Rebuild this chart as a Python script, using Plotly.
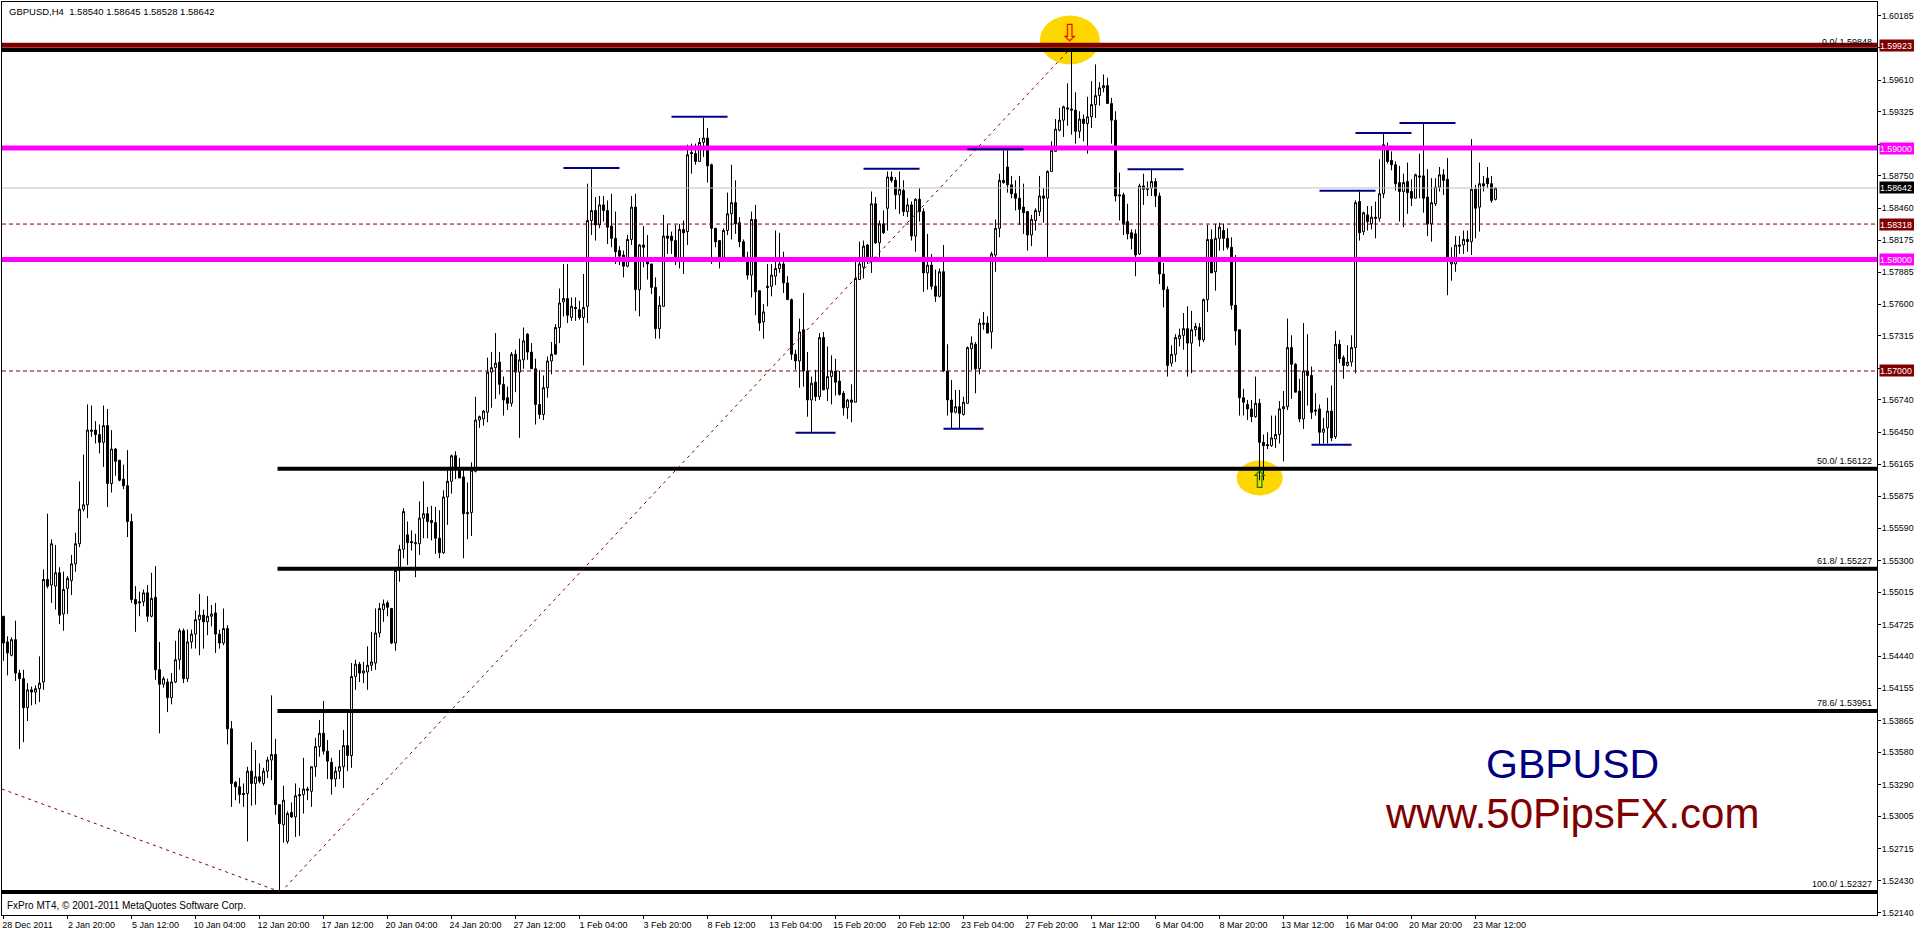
import plotly.graph_objects as go

# Price data in pips (1 pip = 0.0001)
opens_pips = [
15480,15457,15445,15459,15429,15424,15398,15414,15412,15415,
15421,15513,15508,15507,15519,15482,15505,15512,15527,15545,
15576,15580,15647,15647,15643,15636,15651,15599,15630,15620,
15603,15597,15565,15495,15493,15493,15501,15480,15497,15432,
15419,15421,15407,15421,15441,15467,15424,15457,15464,15477,
15481,15475,15480,15483,15464,15456,15469,15379,15331,15327,
15321,15321,15341,15330,15336,15330,15341,15351,15356,15311,
15293,15278,15304,15300,15320,15320,15325,15323,15345,15363,
15375,15359,15349,15334,15341,15345,15364,15355,15426,15437,
15429,15430,15436,15438,15465,15486,15492,15487,15456,15521,
15540,15553,15547,15545,15545,15568,15572,15566,15564,15550,
15537,15587,15601,15624,15612,15605,15573,15573,15610,15656,
15657,15663,15699,15703,15708,15688,15676,15671,15715,15699,
15710,15733,15717,15702,15670,15661,15685,15709,15715,15739,
15762,15765,15748,15757,15755,15748,15758,15835,15844,15831,
15849,15844,15830,15819,15808,15804,15794,15818,15847,15773,
15813,15798,15796,15775,15738,15758,15821,15821,15817,15800,
15827,15825,15896,15895,15888,15905,15909,15885,15828,15817,
15802,15826,15841,15851,15833,15816,15802,15786,15836,15772,
15744,15776,15776,15785,15792,15796,15779,15764,15715,15709,
15737,15700,15674,15690,15677,15730,15684,15695,15700,15691,
15680,15667,15674,15672,15782,15793,15813,15802,15850,15815,
15832,15846,15874,15871,15858,15862,15843,15849,15821,15854,
15843,15788,15795,15776,15767,15789,15700,15674,15663,15668,
15661,15671,15720,15724,15702,15743,15743,15735,15804,15828,
15871,15883,15867,15859,15855,15847,15843,15822,15835,15843,
15857,15855,15879,15897,15916,15925,15936,15935,15934,15915,
15926,15922,15928,15939,15947,15954,15956,15940,15925,15858,
15858,15834,15824,15823,15805,15866,15864,15864,15870,15857,
15787,15773,15707,15715,15729,15732,15738,15725,15737,15739,
15728,15764,15818,15789,15819,15826,15819,15811,15759,15737,
15676,15670,15666,15659,15671,15636,15634,15633,15639,15643,
15666,15668,15721,15706,15682,15657,15700,15696,15665,15666,
15645,15649,15664,15641,15724,15712,15705,15708,15721,15852,
15825,15840,15832,15838,15837,15859,15900,15889,15885,15869,
15861,15870,15861,15855,15875,15875,15856,15832,15850,15865,
15876,15872,15796,15796,15813,15813,15818,15816,15863,15847,
15868,15873,15868,15854]

highs_pips = [
15480,15462,15461,15476,15432,15432,15420,15417,15418,15444,
15522,15572,15549,15544,15524,15520,15516,15535,15555,15601,
15625,15670,15669,15655,15652,15669,15666,15647,15631,15620,
15616,15629,15572,15507,15502,15504,15508,15519,15525,15457,
15426,15424,15429,15458,15469,15469,15468,15468,15485,15500,
15486,15498,15490,15492,15468,15487,15472,15386,15332,15335,
15330,15345,15367,15360,15348,15344,15354,15409,15370,15311,
15328,15305,15313,15330,15326,15353,15327,15345,15371,15387,
15404,15369,15353,15345,15360,15378,15394,15438,15441,15439,
15439,15453,15466,15487,15492,15495,15494,15487,15521,15544,
15577,15565,15557,15554,15583,15601,15578,15579,15578,15575,
15593,15611,15625,15628,15622,15613,15600,15618,15677,15660,
15665,15712,15717,15734,15717,15695,15686,15717,15719,15729,
15739,15734,15725,15711,15701,15696,15713,15726,15742,15774,
15796,15796,15766,15766,15763,15787,15868,15881,15856,15857,
15857,15853,15859,15843,15812,15808,15822,15857,15859,15814,
15830,15822,15796,15784,15767,15840,15832,15825,15831,15832,
15835,15903,15904,15904,15909,15927,15918,15886,15828,15817,
15828,15860,15885,15871,15838,15818,15807,15843,15849,15772,
15760,15796,15796,15826,15824,15807,15785,15765,15719,15747,
15770,15717,15695,15701,15734,15735,15722,15714,15711,15700,
15682,15675,15688,15799,15816,15817,15814,15861,15856,15835,
15844,15879,15879,15874,15879,15871,15855,15852,15855,15864,
15846,15823,15805,15791,15792,15813,15724,15692,15683,15683,
15677,15722,15731,15726,15747,15753,15749,15807,15836,15877,
15898,15898,15875,15871,15875,15868,15843,15840,15846,15875,
15864,15880,15906,15926,15936,15938,15958,15988,15950,15933,
15930,15946,15960,15975,15959,15966,15963,15945,15933,15878,
15860,15850,15827,15827,15868,15877,15870,15881,15873,15860,
15797,15776,15723,15733,15738,15752,15758,15754,15743,15743,
15765,15831,15827,15832,15833,15832,15828,15820,15804,15737,
15684,15674,15674,15695,15675,15643,15645,15660,15660,15673,
15682,15747,15732,15707,15693,15743,15733,15704,15680,15670,
15658,15676,15687,15736,15728,15714,15723,15732,15853,15861,
15843,15848,15848,15852,15890,15913,15905,15897,15888,15884,
15877,15887,15872,15877,15895,15922,15881,15873,15873,15883,
15881,15891,15811,15821,15821,15826,15826,15908,15867,15887,
15875,15883,15875,15865]

lows_pips = [
15440,15427,15444,15422,15361,15367,15386,15400,15401,15403,
15414,15505,15492,15486,15473,15467,15482,15499,15520,15542,
15574,15568,15641,15635,15626,15614,15578,15591,15606,15601,
15594,15551,15492,15466,15480,15489,15475,15479,15423,15375,
15416,15394,15401,15420,15432,15420,15421,15451,15451,15445,
15451,15463,15471,15447,15451,15454,15365,15309,15315,15312,
15309,15278,15310,15311,15330,15328,15335,15333,15302,15233,
15277,15276,15299,15282,15283,15303,15315,15309,15336,15354,
15356,15334,15320,15327,15334,15326,15341,15344,15414,15421,
15420,15414,15431,15432,15461,15475,15480,15455,15449,15511,
15532,15526,15539,15515,15535,15550,15550,15548,15536,15532,
15536,15562,15590,15603,15604,15532,15549,15552,15609,15649,
15651,15654,15667,15675,15679,15660,15665,15668,15681,15640,
15702,15710,15702,15652,15657,15656,15676,15697,15724,15725,
15749,15743,15745,15745,15746,15705,15743,15822,15817,15828,
15834,15814,15811,15796,15795,15784,15793,15813,15754,15749,
15793,15782,15769,15729,15729,15758,15805,15805,15795,15792,
15787,15813,15877,15885,15888,15892,15869,15796,15811,15792,
15802,15822,15818,15823,15811,15801,15782,15766,15750,15736,
15729,15758,15767,15777,15788,15770,15764,15710,15701,15685,
15686,15659,15645,15673,15674,15683,15673,15670,15678,15678,
15660,15657,15654,15672,15782,15783,15796,15788,15814,15801,
15823,15826,15869,15845,15841,15839,15838,15817,15807,15834,
15771,15773,15773,15762,15766,15699,15660,15648,15662,15648,
15660,15671,15701,15680,15697,15737,15734,15720,15789,15820,
15868,15860,15855,15844,15831,15823,15808,15812,15826,15839,
15833,15802,15879,15897,15915,15910,15920,15912,15904,15909,
15906,15895,15918,15927,15938,15950,15940,15904,15852,15835,
15822,15818,15809,15785,15804,15849,15857,15857,15847,15778,
15757,15695,15704,15708,15722,15719,15695,15698,15731,15722,
15726,15753,15788,15772,15808,15808,15809,15755,15723,15660,
15660,15656,15654,15658,15602,15602,15630,15632,15631,15635,
15619,15665,15675,15681,15654,15648,15669,15657,15660,15634,
15635,15635,15637,15639,15707,15693,15704,15704,15698,15817,
15822,15826,15827,15819,15834,15855,15886,15880,15862,15834,
15829,15841,15848,15855,15855,15842,15821,15816,15848,15861,
15858,15768,15781,15789,15805,15805,15807,15804,15819,15825,
15861,15864,15851,15853]

closes_pips = [
15456,15447,15459,15429,15424,15398,15414,15412,15415,15420,
15513,15507,15545,15519,15481,15504,15514,15527,15545,15576,
15580,15647,15646,15643,15636,15651,15599,15630,15619,15602,
15597,15565,15495,15491,15492,15501,15480,15496,15432,15419,
15424,15407,15421,15441,15467,15424,15457,15464,15477,15481,
15475,15480,15482,15464,15456,15469,15379,15330,15327,15320,
15320,15341,15330,15336,15332,15341,15351,15356,15311,15294,
15315,15303,15300,15319,15319,15325,15324,15345,15363,15375,
15359,15350,15334,15341,15345,15364,15355,15426,15437,15429,
15431,15436,15439,15465,15487,15491,15488,15456,15521,15540,
15574,15546,15546,15546,15568,15572,15565,15564,15550,15537,
15587,15601,15624,15612,15604,15572,15572,15611,15656,15659,
15664,15699,15703,15707,15688,15674,15671,15715,15699,15710,
15727,15717,15702,15670,15661,15685,15709,15715,15739,15761,
15765,15750,15758,15756,15748,15757,15835,15844,15831,15849,
15844,15829,15819,15807,15803,15794,15818,15847,15773,15813,
15811,15796,15775,15738,15759,15821,15819,15817,15800,15827,
15824,15894,15895,15888,15905,15909,15884,15828,15816,15802,
15826,15841,15851,15832,15816,15802,15786,15836,15771,15743,
15753,15775,15786,15792,15796,15779,15764,15715,15709,15735,
15700,15674,15689,15677,15730,15683,15695,15700,15690,15679,
15667,15674,15672,15783,15796,15812,15802,15850,15815,15832,
15824,15874,15871,15858,15863,15843,15849,15821,15854,15843,
15788,15795,15776,15767,15789,15700,15674,15663,15668,15662,
15672,15721,15725,15702,15743,15742,15734,15805,15828,15871,
15869,15867,15859,15855,15845,15842,15822,15836,15844,15857,
15855,15879,15898,15917,15925,15937,15935,15934,15915,15926,
15922,15928,15939,15947,15954,15956,15940,15925,15857,15857,
15832,15823,15819,15804,15866,15863,15863,15870,15857,15787,
15773,15705,15715,15730,15732,15738,15725,15737,15740,15728,
15764,15818,15788,15819,15829,15819,15811,15759,15736,15676,
15672,15666,15659,15671,15636,15633,15633,15640,15643,15666,
15668,15721,15706,15681,15657,15700,15696,15663,15664,15645,
15648,15664,15640,15724,15711,15705,15708,15721,15851,15824,
15842,15834,15838,15837,15859,15903,15888,15885,15868,15861,
15869,15860,15855,15876,15874,15855,15832,15851,15865,15876,
15871,15801,15798,15813,15812,15818,15816,15863,15846,15868,
15866,15868,15853,15864]

time_labels = ["28 Dec 2011","2 Jan 20:00","5 Jan 12:00","10 Jan 04:00","12 Jan 20:00",
    "17 Jan 12:00","20 Jan 04:00","24 Jan 20:00","27 Jan 12:00","1 Feb 04:00","3 Feb 20:00",
    "8 Feb 12:00","13 Feb 04:00","15 Feb 20:00","20 Feb 12:00","23 Feb 04:00","27 Feb 20:00",
    "1 Mar 12:00","6 Mar 04:00","8 Mar 20:00","13 Mar 12:00","16 Mar 04:00","20 Mar 20:00",
    "23 Mar 12:00"]
bars_per_label = 16

price_ticks = [1.60185,1.59900,1.59610,1.59325,1.59035,1.58750,1.58460,1.58175,1.57885,1.57600,
    1.57315,1.57025,1.56740,1.56450,1.56165,1.55875,1.55590,1.55300,1.55015,1.54725,1.54440,
    1.54155,1.53865,1.53580,1.53290,1.53005,1.52715,1.52430,1.52140]
covered_ticks = [1.59900,1.59035,1.57025]   # hidden behind the price tags in the reference

fib_labels = ["0.0/ 1.59848","50.0/ 1.56122","61.8/ 1.55227","78.6/ 1.53951","100.0/ 1.52327"]
fib_levels = [1.5988,1.56122,1.55227,1.53951,1.52327]
fib_start_bars = [0,69,69,69,0]

magenta_levels = [1.59,1.58]
maroon_solid_level = 1.59923
maroon_dash_levels = [1.58318,1.57]
last_price = 1.58642

swing_prices = [1.58821,1.5928,1.58814,1.5899,1.5881,1.58617,1.59135,1.59224,1.56447,1.56482,1.56339]
swing_start = [140,167,215,241,281,329,338,349,198,235,327]
swing_end   = [154,181,229,255,295,343,352,363,208,245,337]

trend_bars_a = [-0.4,69]
trend_prices_a = [1.5325,1.5233]
trend_bars_b = [70.5,266.4]
trend_prices_b = [1.5237,1.5988]

price_tags = [(1.59923,"#800000"),(1.59,"#FF00FF"),(1.58642,"#000000"),
              (1.58318,"#800000"),(1.58,"#FF00FF"),(1.57,"#800000")]

assert len(opens_pips)==len(highs_pips)==len(lows_pips)==len(closes_pips)

opens=[v/10000 for v in opens_pips]
highs=[v/10000 for v in highs_pips]
lows=[v/10000 for v in lows_pips]
closes=[v/10000 for v in closes_pips]
bars=list(range(len(opens)))

XMIN,XMAX=-0.375,468.375
FONT="Liberation Sans"
fig=go.Figure()

fig.add_trace(go.Candlestick(x=bars,open=opens,high=highs,low=lows,close=closes,
    increasing=dict(line=dict(color="black",width=1),fillcolor="white"),
    decreasing=dict(line=dict(color="black",width=1),fillcolor="black"),
    whiskerwidth=0,showlegend=False,hoverinfo="skip"))

def hline(x0,x1,y,color,width,dash="solid"):
    fig.add_trace(go.Scatter(x=[x0,x1],y=[y,y],mode="lines",showlegend=False,hoverinfo="skip",
        line=dict(color=color,width=width,dash=dash)))

hline(XMIN,XMAX,last_price,"#C0C0C0",1)
for lv in maroon_dash_levels:
    hline(XMIN,XMAX,lv,"#800000",1,"4px,3px")
for lv,st in zip(fib_levels,fib_start_bars):
    hline(st-0.5 if st else XMIN,XMAX,lv,"#000000",4)
hline(XMIN,XMAX,maroon_solid_level,"#800000",5)
for lv in magenta_levels:
    hline(XMIN,XMAX,lv,"#FF00FF",5)
for p,a,b in zip(swing_prices,swing_start,swing_end):
    hline(a,b,p,"#000080",2)

for xs,ys in ((trend_bars_a,trend_prices_a),(trend_bars_b,trend_prices_b)):
    fig.add_trace(go.Scatter(x=xs,y=ys,mode="lines",showlegend=False,hoverinfo="skip",
        line=dict(color="#800000",width=1,dash="3px,4px")))

fig.add_trace(go.Scatter(x=[266.6],y=[1.6001],mode="text",text=["\u21e9"],showlegend=False,hoverinfo="skip",
    textfont=dict(family="DejaVu Sans",size=24,color="#FF0000")))
fig.add_trace(go.Scatter(x=[314],y=[1.56005],mode="text",text=["\u21e7"],showlegend=False,hoverinfo="skip",
    textfont=dict(family="DejaVu Sans",size=24,color="#008000")))

shapes=[
    dict(type="circle",xref="x",yref="y",x0=259.1,x1=274.1,y0=1.5975,y1=1.60188,
         fillcolor="#FFD700",line=dict(width=0),layer="below"),
    dict(type="circle",xref="x",yref="y",x0=308.3,x1=319.8,y0=1.55884,y1=1.56196,
         fillcolor="#FFD700",line=dict(width=0),layer="below"),
]

ann=[]
small=dict(family=FONT,size=9,color="black")
axis_font=dict(family=FONT,size=8.8,color="black")
ann.append(dict(xref="paper",yref="paper",x=0.0027,y=0.9975,xanchor="left",yanchor="top",showarrow=False,
    text="GBPUSD,H4\u00a0\u00a01.58540 1.58645 1.58528 1.58642",font=dict(family=FONT,size=9.5,color="black")))
ann.append(dict(xref="paper",yref="paper",x=0.0016,y=0.0,xanchor="left",yanchor="bottom",yshift=2,showarrow=False,
    text="FxPro MT4, \u00a9 2001-2011 MetaQuotes Software Corp.",font=dict(family=FONT,size=10,color="black")))
for t,lv in zip(fib_labels,fib_levels):
    ann.append(dict(xref="paper",yref="y",x=0.9985,y=lv,xanchor="right",yanchor="bottom",yshift=1,showarrow=False,
        text=t,font=small))
for lv,col in price_tags:
    ann.append(dict(xref="paper",yref="y",x=1.0011,y=lv,xanchor="left",yanchor="middle",showarrow=False,
        text=f"{lv:.5f}",bgcolor=col,borderpad=0,width=35,height=11,align="left",
        font=dict(family=FONT,size=8.8,color="white")))
ann.append(dict(xref="x",yref="y",x=392.3,y=1.53475,xanchor="center",yanchor="middle",showarrow=False,
    text="GBPUSD",font=dict(family=FONT,size=41,color="#000080")))
ann.append(dict(xref="x",yref="y",x=392.0,y=1.53027,xanchor="center",yanchor="middle",showarrow=False,
    text="www.50PipsFX.com",font=dict(family=FONT,size=42,color="#800000")))

fig.update_layout(width=1914,height=931,margin=dict(l=2,r=37,t=2,b=16,autoexpand=False),
    paper_bgcolor="white",plot_bgcolor="white",showlegend=False,hovermode=False,
    shapes=shapes,annotations=ann,
    xaxis=dict(type="linear",range=[XMIN,XMAX],rangeslider=dict(visible=False),showgrid=False,zeroline=False,
        tickmode="array",tickvals=[k*bars_per_label for k in range(len(time_labels))],ticktext=time_labels,
        ticks="outside",ticklen=3,tickcolor="black",showline=True,linecolor="black",linewidth=1,mirror=True,
        tickfont=small,ticklabelshift=24,ticklabelstandoff=-2,tickangle=0,automargin=False),
    yaxis=dict(range=[1.52120,1.60310],side="right",showgrid=False,zeroline=False,
        tickmode="array",tickvals=price_ticks,
        ticktext=["" if v in covered_ticks else f"{v:.5f}" for v in price_ticks],
        ticks="outside",ticklen=3,tickcolor="black",showline=True,linecolor="black",linewidth=1,mirror=True,
        tickfont=axis_font,ticklabelstandoff=-1,automargin=False))

fig.write_html("out.html",post_script="document.body.style.margin='0';",config=dict(displayModeBar=False))
